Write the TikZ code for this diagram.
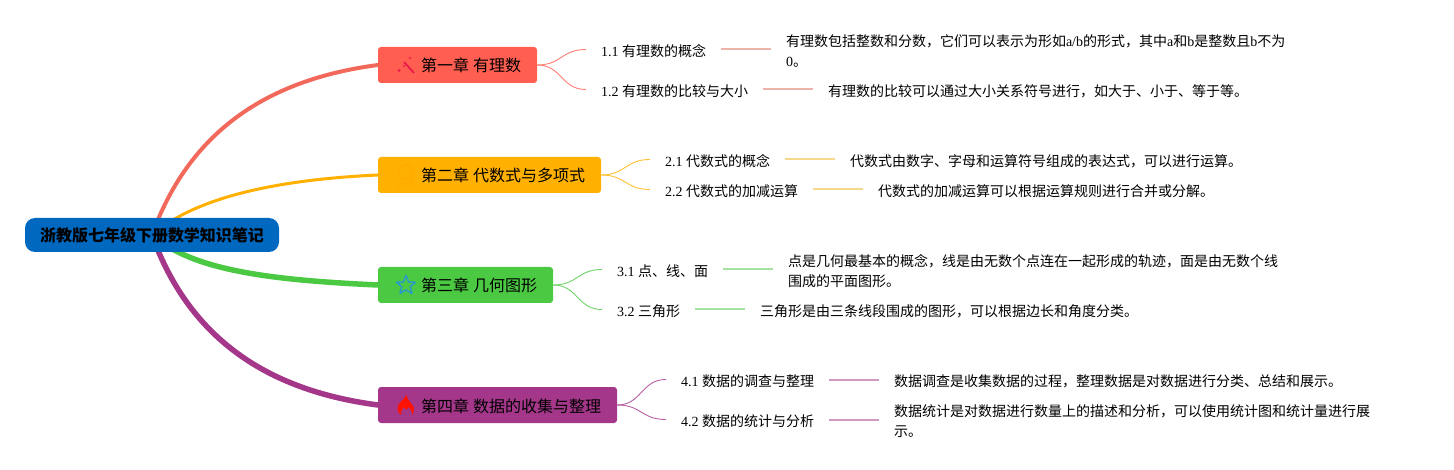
\documentclass[tikz,border=0pt]{standalone}
\usepackage{fontspec}
\setmainfont{Liberation Serif}
\newfontfamily\cjkfont{Noto Sans CJK SC}
\newcommand{\zh}[1]{{\cjkfont #1}}
\pgfdeclarelayer{back}
\pgfsetlayers{back,main}
\definecolor{c1}{HTML}{FF5E51}
\definecolor{c2}{HTML}{FFB000}
\definecolor{c3}{HTML}{4CC943}
\definecolor{c4}{HTML}{A4378A}
\definecolor{rootc}{HTML}{0068BF}
\definecolor{branchone}{HTML}{F2695B}
\definecolor{l1}{HTML}{EDB4AA}
\definecolor{l2}{HTML}{F5D98A}
\definecolor{l3}{HTML}{A6E2A1}
\definecolor{l4}{HTML}{CF9BC4}
\tikzset{
  rootbox/.style={fill=rootc,rounded corners=10pt,inner xsep=15pt,inner ysep=0pt,minimum height=34pt,outer sep=0pt,font=\fontsize{16pt}{20pt}\selectfont\cjkfont\bfseries},
  chapter/.style={fill=#1,rounded corners=3pt,inner xsep=0pt,inner ysep=0pt,minimum height=36pt,anchor=west,outer sep=0pt,text height=16pt,text depth=2pt,font=\fontsize{16pt}{20pt}\selectfont},
  sub/.style={anchor=west,inner xsep=15pt,inner ysep=0pt,outer sep=0pt,text height=16pt,text depth=2pt,font=\fontsize{14pt}{20pt}\selectfont},
  desc/.style={anchor=west,inner sep=0pt,outer sep=0pt,align=left,font=\fontsize{14pt}{20pt}\selectfont},
  main branch/.style={draw=#1,line cap=round},
  twig/.style={draw=#1!80,line width=0.9pt},
  leaflink/.style={draw=#1,line width=2pt},
}
\newcommand{\chap}[1]{\hspace*{43pt}#1\hspace*{16pt}}
\begin{document}
\begin{tikzpicture}[x=1pt,y=-1pt]
\useasboundingbox (0,0) rectangle (1454,470);
\node[rootbox] (root) at (152,235) {浙教版七年级下册数学知识笔记};

\node[chapter=c1] (ch1) at (378,65) {\chap{\zh{第一章} \zh{有理数}}};
\node[chapter=c2] (ch2) at (378,175) {\chap{\zh{第二章} \zh{代数式与多项式}}};
\node[chapter=c3] (ch3) at (378,285) {\chap{\zh{第三章} \zh{几何图形}}};
\node[chapter=c4] (ch4) at (378,405) {\chap{\zh{第四章} \zh{数据的收集与整理}}};

% chapter 1
\node[sub] (s11) at (586,49.5) {1.1 \zh{有理数的概念}};
\node[sub] (s12) at (586,89.5) {1.2 \zh{有理数的比较与大小}};
\node[desc] (d11) at (786,51) {\zh{有理数包括整数和分数，它们可以表示为形如}a/b\zh{的形式，其中}a\zh{和}b\zh{是整数且}b\zh{不为}\\0\zh{。}};
\node[desc] (d12) at (828,91) {\zh{有理数的比较可以通过大小关系符号进行，如大于、小于、等于等。}};
% chapter 2
\node[sub] (s21) at (650,159.5) {2.1 \zh{代数式的概念}};
\node[sub] (s22) at (650,189.5) {2.2 \zh{代数式的加减运算}};
\node[desc] (d21) at (850,161) {\zh{代数式由数字、字母和运算符号组成的表达式，可以进行运算。}};
\node[desc] (d22) at (878,191) {\zh{代数式的加减运算可以根据运算规则进行合并或分解。}};
% chapter 3
\node[sub] (s31) at (602,269.5) {3.1 \zh{点、线、面}};
\node[sub] (s32) at (602,309.5) {3.2 \zh{三角形}};
\node[desc] (d31) at (788,271) {\zh{点是几何最基本的概念，线是由无数个点连在一起形成的轨迹，面是由无数个线}\\\zh{围成的平面图形。}};
\node[desc] (d32) at (760,311) {\zh{三角形是由三条线段围成的图形，可以根据边长和角度分类。}};
% chapter 4
\node[sub] (s41) at (666,379.5) {4.1 \zh{数据的调查与整理}};
\node[sub] (s42) at (666,419.5) {4.2 \zh{数据的统计与分析}};
\node[desc] (d41) at (894,381) {\zh{数据调查是收集数据的过程，整理数据是对数据进行分类、总结和展示。}};
\node[desc] (d42) at (894,421) {\zh{数据统计是对数据进行数量上的描述和分析，可以使用统计图和统计量进行展}\\\zh{示。}};

\begin{pgfonlayer}{back}
\draw[main branch=branchone,line width=4pt] (root.center) .. controls +(36,-100) and +(-115,15) .. (ch1.west);
\draw[main branch=c2,line width=3pt] (root.center) .. controls +(40,-35) and +(-110,5) .. (ch2.west);
\draw[main branch=c3,line width=5.5pt] (root.center) .. controls +(40,35) and +(-110,-5) .. (ch3.west);
\draw[main branch=c4,line width=5.5pt] (root.center) .. controls +(36,100) and +(-115,-15) .. (ch4.west);
\end{pgfonlayer}

\foreach \colr/\k/\s in {c1/ch1/s11,c1/ch1/s12,c2/ch2/s21,c2/ch2/s22,c3/ch3/s31,c3/ch3/s32,c4/ch4/s41,c4/ch4/s42}{
  \draw[twig=\colr] (\k.east) .. controls +(25,0) and ([xshift=-25pt]\s.west) .. (\s.west);
}
\foreach \colr/\s/\dd in {l1/s11/d11,l1/s12/d12,l2/s21/d21,l2/s22/d22,l3/s31/d31,l3/s32/d32,l4/s41/d41,l4/s42/d42}{
  \path (\s.east -| \dd.west) ++(-15pt,0) coordinate (linkend);
  \draw[leaflink=\colr] (\s.east) -- (linkend);
}

% icons
\definecolor{wand}{HTML}{E8194B}
\draw[wand,line width=1.8pt] (404,62) -- (414,73);
\fill[wand] (410,58) circle (1.2pt) (399,70.5) circle (1.5pt) (404,66) circle (1.1pt);
\draw[draw=orange!50!c2,line width=1.4pt,opacity=.2] (406,172) circle (7pt);
\draw[draw=orange!50!c2,line width=1.4pt,opacity=.2] (401,179) -- (399,186) -- (406,183) -- (413,186) -- (411,179);
\draw[draw=cyan!60!teal,line width=1.5pt,line join=round] (406,275.5)
  -- (408.6,282) -- (415.5,282.3) -- (410.2,286.8) -- (412,293.6) -- (406,289.8)
  -- (400,293.6) -- (401.8,286.8) -- (396.5,282.3) -- (403.4,282) -- cycle;
\fill[red!85!orange] (406,394.5) .. controls (406.5,398) and (409,400) .. (410,402)
  .. controls (414,406) and (415.5,410) .. (412,415)
  .. controls (412.5,411) and (410,408.5) .. (408.5,407)
  .. controls (408,410) and (404.5,410) .. (404,407)
  .. controls (402,409) and (400,412) .. (401,415)
  .. controls (396.5,411.5) and (396.5,406) .. (400,402.5)
  .. controls (402,400) and (405.5,398) .. (406,394.5) -- cycle;
\end{tikzpicture}
\end{document}
